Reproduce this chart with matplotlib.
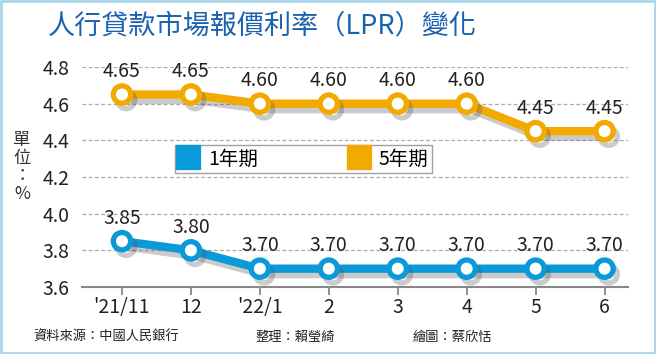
import matplotlib.pyplot as plt
import matplotlib.patheffects as pe
from matplotlib.patches import Rectangle

plt.rcParams['font.family'] = ['Noto Sans CJK TC', 'DejaVu Sans']

months = ["'21/11", "12", "'22/1", "2", "3", "4", "5", "6"]
lpr_1y = [3.85, 3.80, 3.70, 3.70, 3.70, 3.70, 3.70, 3.70]
lpr_5y = [4.65, 4.65, 4.60, 4.60, 4.60, 4.60, 4.45, 4.45]
yticks = [3.6, 3.8, 4.0, 4.2, 4.4, 4.6, 4.8]

blue = '#0a9ad9'
orange = '#f2aa00'

fig = plt.figure(figsize=(6.56, 3.54), dpi=100)
ax = fig.add_axes([82/656, 1-287/354, 546/656, 220/354])
x = range(len(months))

shadow = [pe.SimpleLineShadow(offset=(3, -4), shadow_color='#555555', alpha=0.3), pe.Normal()]
for vals, col, lab in [(lpr_1y, blue, '1年期'), (lpr_5y, orange, '5年期')]:
    ax.plot(x, vals, color=col, lw=6, marker='o', ms=12.5, mfc='white', mec=col, mew=3.8,
            solid_capstyle='round', path_effects=shadow, zorder=3, label=lab)
    for i, v in enumerate(vals):
        ax.annotate(f'{v:.2f}', (i, v), xytext=(0, 9), textcoords='offset points',
                    ha='center', va='bottom', fontsize=14, color='#222222', zorder=4)

ax.set_xlim(-0.58, 7.34)
ax.set_ylim(3.6, 4.8)
ax.set_yticks(yticks)
ax.set_yticklabels([f'{t:.1f}' for t in yticks], fontsize=14, color='#222222')
ax.set_xticks(list(x))
ax.set_xticklabels(months, fontsize=14, color='#222222')
for t in yticks[1:]:
    ax.axhline(t, color='#aaaaaa', lw=0.9, ls=(0, (3, 2)), zorder=1)
for s in ['top', 'right', 'left']:
    ax.spines[s].set_visible(False)
ax.spines['bottom'].set_color('#888888')
ax.spines['bottom'].set_linewidth(1.5)
ax.tick_params(axis='x', direction='out', length=6, width=1.3, color='#888888', pad=1)
ax.tick_params(axis='y', length=0, pad=9)

leg = ax.legend(loc='center', bbox_to_anchor=(0.152, 0.509, 0.507, 0.146), mode='expand',
                ncol=2, fontsize=14, frameon=True, fancybox=False, edgecolor='#888888',
                handlelength=1.0, handleheight=1.0, borderpad=0.2, handletextpad=0.5)
leg.get_frame().set_linewidth(1.0)
# square markers in legend
for h, col in zip(leg.legend_handles, [blue, orange]):
    h.set_linestyle('none')
    h.set_marker('s')
    h.set_markersize(14)
    h.set_markerfacecolor(col)
    h.set_markeredgecolor(col)
    h.set_path_effects([])

fig.text(262/656, 1-26/354, '人行貸款市場報價利率（LPR）變化', ha='center', va='center',
         fontsize=19.5, color='#1a62ad')
fig.text(22/656, 1-167/354, '單\n位\n：\n%', ha='center', va='center', fontsize=12.5,
         color='#333333', linespacing=1.0)
fig.text(33/656, 1-337/354, '資料來源：中國人民銀行', ha='left', va='center', fontsize=9.5,
         color='#222222')
fig.text(255/656, 1-337/354, '整理：賴瑩綺', ha='left', va='center', fontsize=9.5,
         color='#222222')
fig.text(413/656, 1-337/354, '繪圖：蔡欣恬', ha='left', va='center', fontsize=9.5,
         color='#222222')

fig.patches.append(Rectangle((0.002, 0.003), 0.996, 0.994, transform=fig.transFigure,
                             fill=False, edgecolor='#a8d6ea', lw=2))

fig.savefig('out.png', dpi=100)
